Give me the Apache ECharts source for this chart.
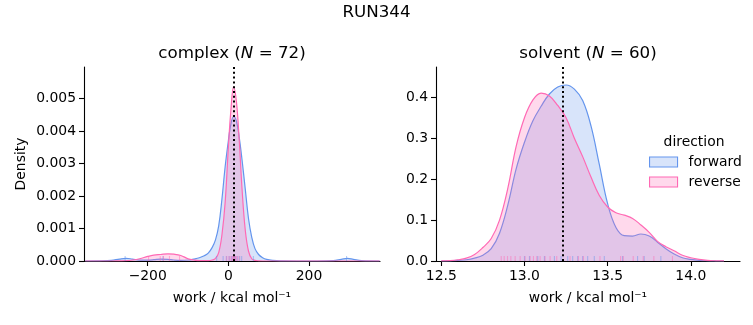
<!DOCTYPE html>
<html><head><meta charset="utf-8">
<script src="https://cdn.jsdelivr.net/npm/echarts@6/dist/echarts.min.js"></script>
<style>html,body{margin:0;padding:0;background:#fff}#c{width:753px;height:325px}</style>
</head><body><div id="c"></div>
<script>
// ---- data ----
const suptitle = 'RUN344';
const panelNames = ['complex', 'solvent'];
const panelN = [72, 60];
const seriesNames = ['forward', 'reverse'];
const legendTitle = 'direction';
const xAxisTitle = 'work / kcal mol\u207B\u00B9';
const yAxisTitle = 'Density';

const complexX = [-355, -320, -290, -270, -254, -238, -220, -200, -185, -168, -150, -135, -118, -100, -86, -72, -60, -50, -40, -32, -24, -16, -8, 0, 6, 13, 20, 27, 34, 42, 50, 58, 66, 75, 85, 95, 110, 130, 170, 220, 260, 280, 295, 310, 330, 375];
const complexForward = [0, 0.000005, 0.00002, 0.00006, 0.00008, 0.00006, 0.00003, 0.00003, 0.00004, 0.00006, 0.00005, 0.00003, 0.00002, 0.00003, 0.00006, 0.0001, 0.00016, 0.00024, 0.00042, 0.00065, 0.00108, 0.0019, 0.0029, 0.0037, 0.0042, 0.00444, 0.0043, 0.0038, 0.0031, 0.0022, 0.0013, 0.00073, 0.00038, 0.0002, 0.0001, 0.00005, 0.00002, 0.000005, 0, 0, 0.00001, 0.00005, 0.00008, 0.00005, 0.00001, 0];
const complexReverse = [0, 0, 0, 0.000005, 0.00001, 0.00003, 0.00007, 0.00014, 0.00018, 0.0002, 0.00022, 0.00021, 0.00017, 0.00007, 0.00003, 0.00001, 0.00001, 0.00001, 0.00003, 0.00008, 0.00026, 0.0008, 0.0018, 0.0035, 0.0046, 0.00536, 0.0049, 0.0037, 0.0022, 0.00094, 0.0003, 0.00007, 0.00002, 0.000005, 0, 0, 0, 0, 0, 0, 0, 0, 0, 0, 0, 0];

const solventX = [12.50, 12.55, 12.60, 12.65, 12.70, 12.75, 12.80, 12.85, 12.90, 12.95, 13.00, 13.05, 13.10, 13.15, 13.20, 13.25, 13.30, 13.35, 13.40, 13.45, 13.50, 13.55, 13.60, 13.65, 13.70, 13.75, 13.80, 13.85, 13.90, 13.95, 14.00, 14.05, 14.10, 14.15, 14.20];
const solventForward = [0, 0.0005, 0.0015, 0.003, 0.007, 0.014, 0.03, 0.068, 0.137, 0.225, 0.29, 0.342, 0.378, 0.408, 0.425, 0.43, 0.42, 0.392, 0.33, 0.236, 0.14, 0.082, 0.062, 0.061, 0.066, 0.061, 0.046, 0.03, 0.017, 0.008, 0.004, 0.0015, 0.0005, 0.0001, 0];
const solventReverse = [0.0002, 0.001, 0.003, 0.007, 0.016, 0.033, 0.055, 0.1, 0.178, 0.28, 0.35, 0.393, 0.41, 0.403, 0.38, 0.35, 0.30, 0.255, 0.205, 0.16, 0.132, 0.118, 0.112, 0.104, 0.088, 0.07, 0.048, 0.035, 0.025, 0.014, 0.008, 0.004, 0.0015, 0.0005, 0.0001];

const complexRugForward = [-256, -162, -29, -13, -5, 2, 8, 12, 15, 18, 22, 28, 33, 62, 293];
const complexRugReverse = [-198, -169, -161, -146, -121, -4, 2, 6, 10, 12, 14, 16, 18, 21, 26];
const solventRugForward = [13.00, 13.03, 13.08, 13.12, 13.18, 13.22, 13.26, 13.29, 13.32, 13.35, 13.38, 13.42, 13.48, 13.59, 13.68, 13.72, 13.82];
const solventRugReverse = [12.86, 12.878, 12.898, 12.918, 12.944, 12.974, 13.004, 13.034, 13.054, 13.074, 13.094, 13.124, 13.154, 13.194, 13.274, 13.324, 13.354, 13.454, 13.578, 13.594, 13.654, 13.714, 13.778, 13.89];

const complexMean = 14;
const solventMean = 13.232;

const complexXTicks = [-200, 0, 200];
const complexYTicks = [0, 0.001, 0.002, 0.003, 0.004, 0.005];
const solventXTicks = [12.5, 13.0, 13.5, 14.0];
const solventYTicks = [0, 0.1, 0.2, 0.3, 0.4];
const complexXRange = [-358, 376];
const complexYRange = [0, 0.00597];
const solventXRange = [12.468, 14.296];
const solventYRange = [0, 0.474];

// ---- styling ----
const FONT = 'DejaVu Sans';
const COLORS = ['#6495ED', '#FF69B4'];
const FILLS = ['rgba(100,149,237,0.25)', 'rgba(255,105,180,0.25)'];
const RUGS = ['rgba(100,149,237,0.6)', 'rgba(255,105,180,0.6)'];

const chart = echarts.init(document.getElementById('c'));

function xAxis(gi, range, ticks, fmt) {
  return {
    type: 'value', gridIndex: gi, min: range[0], max: range[1],
    name: xAxisTitle, nameLocation: 'middle', nameGap: 30,
    nameTextStyle: {fontFamily: FONT, fontSize: 13.9, color: '#000'},
    axisLine: {show: true, onZero: false, lineStyle: {color: '#000', width: 1.1}},
    axisTick: {show: true, length: 5, lineStyle: {color: '#000', width: 1.1}, customValues: ticks},
    axisLabel: {show: true, margin: 8, fontFamily: FONT, fontSize: 13.9, color: '#000', customValues: ticks, formatter: fmt},
    splitLine: {show: false}
  };
}
function yAxis(gi, range, ticks, fmt, withName) {
  return {
    type: 'value', gridIndex: gi, min: range[0], max: range[1],
    name: withName ? yAxisTitle : '', nameLocation: 'middle', nameGap: 56,
    nameTextStyle: {fontFamily: FONT, fontSize: 13.9, color: '#000'},
    axisLine: {show: true, onZero: false, lineStyle: {color: '#000', width: 1.1}},
    axisTick: {show: true, length: 5, lineStyle: {color: '#000', width: 1.1}, customValues: ticks},
    axisLabel: {show: true, margin: 8, fontFamily: FONT, fontSize: 13.9, color: '#000', customValues: ticks, formatter: fmt},
    splitLine: {show: false}
  };
}
function area(k, xs, ys, gi, extra) {
  return Object.assign({
    type: 'line', name: seriesNames[k], xAxisIndex: gi, yAxisIndex: gi,
    data: xs.map((x, i) => [x, ys[i]]),
    smooth: 0.4, symbol: 'none', silent: true, sampling: null,
    lineStyle: {color: COLORS[k], width: 1.2},
    itemStyle: {color: COLORS[k]},
    areaStyle: {color: FILLS[k], opacity: 1},
    z: 2 + k
  }, extra || {});
}
function rug(k, xs, gi) {
  return {
    type: 'scatter', name: seriesNames[k], xAxisIndex: gi, yAxisIndex: gi,
    data: xs.map(x => [x, 0]), symbol: 'rect', symbolSize: [1.1, 5], symbolOffset: [0, -2.5],
    itemStyle: {color: RUGS[k]}, silent: true, z: 4
  };
}
function meanLine(v) {
  return {
    silent: true, symbol: ['none', 'none'], label: {show: false}, animation: false,
    lineStyle: {color: '#000', type: [2, 2.8], width: 2},
    emphasis: {disabled: true},
    data: [{xAxis: v}]
  };
}
const minus = v => String(v).replace('-', '\u2212');

function titleText(i, cx) {
  return {
    type: 'text', x: cx, y: 54, silent: true,
    style: {
      text: '{a|' + panelNames[i] + ' (}{i|N}{a| = ' + panelN[i] + ')}',
      align: 'center', verticalAlign: 'middle',
      rich: {
        a: {fontFamily: FONT, fontSize: 16.7, fill: '#000', color: '#000'},
        i: {fontFamily: FONT, fontSize: 16.7, fontStyle: 'italic', fill: '#000', color: '#000'}
      }
    }
  };
}

chart.setOption({
  animation: false,
  backgroundColor: '#fff',
  grid: [
    {left: 84, top: 67, width: 296, height: 194},
    {left: 436, top: 67, width: 304, height: 194}
  ],
  xAxis: [
    xAxis(0, complexXRange, complexXTicks, minus),
    xAxis(1, solventXRange, solventXTicks, v => v.toFixed(1))
  ],
  yAxis: [
    yAxis(0, complexYRange, complexYTicks, v => v.toFixed(3), true),
    yAxis(1, solventYRange, solventYTicks, v => v.toFixed(1), false)
  ],
  legend: {
    orient: 'vertical', left: 649, top: 155, icon: 'rect', itemWidth: 28, itemHeight: 10, itemGap: 6,
    padding: 0, selectedMode: false,
    textStyle: {fontFamily: FONT, fontSize: 13.9, color: '#000', padding: [0, 0, 0, 6]},
    data: seriesNames.map((n, k) => ({name: n, icon: 'rect', itemStyle: {color: FILLS[k], borderColor: COLORS[k], borderWidth: 1.1}}))
  },
  graphic: [
    {type: 'text', x: 376.5, y: 13, silent: true, style: {text: suptitle, align: 'center', verticalAlign: 'middle', fontFamily: FONT, fontSize: 16.7, fill: '#000'}},
    titleText(0, 232),
    titleText(1, 588),
    {type: 'text', x: 694, y: 142, silent: true, style: {text: legendTitle, align: 'center', verticalAlign: 'middle', fontFamily: FONT, fontSize: 13.9, fill: '#000'}}
  ],
  series: [
    area(0, complexX, complexForward, 0),
    area(1, complexX, complexReverse, 0),
    rug(0, complexRugForward, 0),
    rug(1, complexRugReverse, 0),
    area(0, solventX, solventForward, 1),
    area(1, solventX, solventReverse, 1),
    rug(0, solventRugForward, 1),
    rug(1, solventRugReverse, 1),
    {type: 'line', name: 'meanC', xAxisIndex: 0, yAxisIndex: 0, data: [], symbol: 'none', markLine: meanLine(complexMean), z: 5},
    {type: 'line', name: 'meanS', xAxisIndex: 1, yAxisIndex: 1, data: [], symbol: 'none', markLine: meanLine(solventMean), z: 5}
  ]
});
</script>
</body></html>
